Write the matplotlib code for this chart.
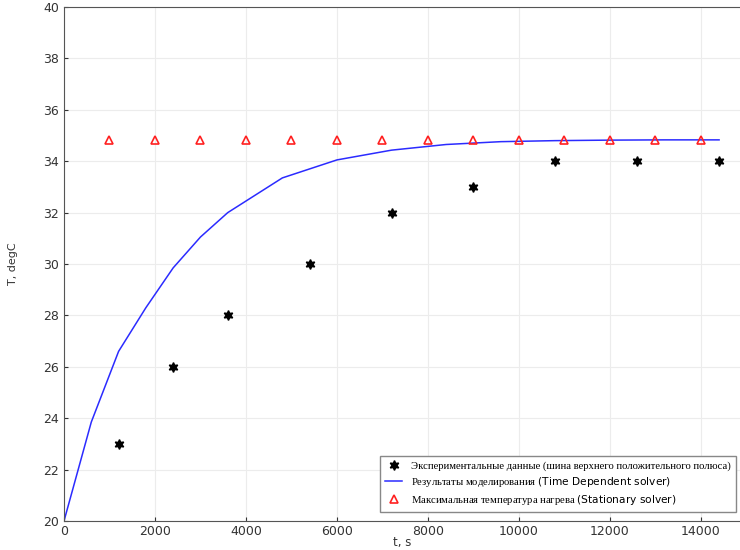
import numpy as np
import matplotlib
matplotlib.use("Agg")
import matplotlib.pyplot as plt

# experimental points
t_exp = [1200, 2400, 3600, 5400, 7200, 9000, 10800, 12600, 14400]
T_exp = [23.0, 26.0, 28.0, 30.0, 32.0, 33.0, 34.0, 34.0, 34.0]

# time dependent solver
t_sim = [0, 600, 1200, 1800, 2400, 3000, 3600, 4800, 6000, 7200, 8400, 9600, 10800, 12000, 13200, 14400]
T_sim = [20.0, 23.85, 26.6, 28.3, 29.85, 31.05, 32.0, 33.35, 34.05, 34.43, 34.65, 34.76, 34.8, 34.82, 34.83, 34.83]

# stationary solver
t_st = [1000, 2000, 3000, 4000, 5000, 6000, 7000, 8000, 9000, 10000, 11000, 12000, 13000, 14000]
T_st = [34.83] * len(t_st)

labels = [
    "Экспериментальные данные (шина верхнего положительного полюса)",
    r"Результаты моделирования $\mathrm{(Time\ Dependent\ solver)}$",
    r"Максимальная температура нагрева $\mathrm{(Stationary\ solver)}$",
]

plt.rcParams['mathtext.fontset'] = 'dejavusans'

fig = plt.figure(figsize=(7.4, 5.5), dpi=100)
ax = fig.add_axes([64 / 740, 1 - 521 / 550, 1 - 64 / 740, (521 - 7) / 550])

ax.plot(t_exp, T_exp, linestyle='none', marker=(6, 1, 0), color='black', markersize=7, label=labels[0])
ax.plot(t_sim, T_sim, color='#2b2bff', lw=1.1, label=labels[1])
ax.plot(t_st, T_st, linestyle='none', marker='^', markerfacecolor='none', markeredgecolor='#ff2020',
        markeredgewidth=1.2, markersize=5.5, label=labels[2])

ax.set_xlim(0, 14860)
ax.set_ylim(20, 40)
ax.set_xticks(np.arange(0, 14001, 2000))
ax.set_yticks(np.arange(20, 41, 2))
ax.grid(True, color='#ececec', lw=0.8)
ax.set_axisbelow(True)
ax.tick_params(direction='in', length=3, labelsize=9, colors='#333333')
ax.tick_params(axis='x', pad=3)
ax.spines['right'].set_visible(False)
for s in ['left', 'bottom', 'top']:
    ax.spines[s].set_color('#555555')

ax.set_xlabel("t, s", fontsize=8.5, color='#333333', labelpad=-1.5)
ax.set_ylabel("T, degC", fontsize=8, color='#333333', labelpad=18)

leg = ax.legend(loc='lower right', bbox_to_anchor=(736 / 740, 1 - 512 / 550), bbox_transform=fig.transFigure,
                prop={'family': 'Liberation Serif', 'size': 7.7}, fancybox=False, edgecolor='#888888',
                framealpha=1, handlelength=1.6, borderpad=0.5, labelspacing=0.35, borderaxespad=0)
leg.get_frame().set_linewidth(1.0)

fig.savefig("out.png", dpi=100)
